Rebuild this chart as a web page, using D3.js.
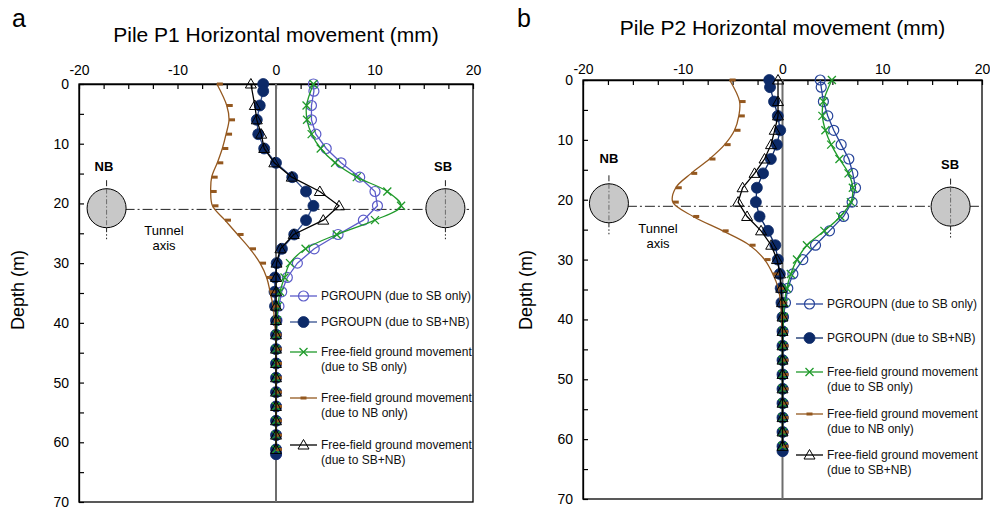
<!DOCTYPE html>
<html>
<head>
<meta charset="utf-8">
<script src="https://cdn.jsdelivr.net/npm/d3@7"></script>
<style>
  body { margin: 0; background: #fff; }
  svg { font-family: "Liberation Sans", Arial, sans-serif; }
</style>
</head>
<body>
<div id="chart"></div>
<script>
// depths (m) of the pile nodes and of the free-field points
var pileDepth = [0, 1.2, 3.6, 6, 8.4, 10.8, 13.2, 15.6, 18, 20.4, 22.8, 25.2, 27.6, 30, 32.4, 34.8, 37.2, 39.6, 42, 44.4, 46.8, 49.2, 51.6, 54, 56.4, 58.8, 61.2, 62];
var ffDepth = [0, 3.6, 6, 8.4, 10.8, 13.2, 15.6, 18, 20.4, 22.8, 25.2, 27.6, 30, 32.4, 34.8, 37.2, 39.6, 42, 44.4, 46.8, 49.2, 51.6, 54, 56.4, 58.8, 61.2];

var xTicks = [-20, -10, 0, 10, 20];
var yTicks = [0, 10, 20, 30, 40, 50, 60, 70];

var legendNames = [
  ["PGROUPN (due to SB only)"],
  ["PGROUPN (due to SB+NB)"],
  ["Free-field ground movement", "(due to SB only)"],
  ["Free-field ground movement", "(due to NB only)"],
  ["Free-field ground movement", "(due to SB+NB)"]
];

// pile P1 (mm)
var p1SbOnly = [3.8, 3.85, 3.6, 3.6, 4.05, 5.1, 6.6, 8.5, 10.05, 10.3, 8.87, 6.3, 3.88, 2.17, 1.15, 0.58, 0.3, 0.1, 0.05, 0.05, 0.05, 0.05, 0.05, 0.05, 0.05, 0.05, 0.05, 0.05];
var p1SbNb = [-1.3, -1.3, -1.65, -1.95, -1.8, -1.2, 0, 1.65, 3.05, 3.8, 3.05, 1.85, 0.6, 0.07, -0.1, -0.15, -0.1, 0, 0, 0, 0, 0, 0, 0, 0, 0, 0, 0];
var p1FfSb = [3.8, 3.1, 3.15, 3.62, 4.54, 6.0, 8.2, 11.3, 12.7, 10.05, 6.16, 3.0, 1.42, 0.86, 0.41, 0.2, 0.1, 0.05, 0, 0, 0, 0, 0, 0, 0, 0];
var p1FfNb = [-6.0, -5.0, -4.77, -5.07, -5.45, -5.96, -6.53, -6.63, -6.45, -5.18, -3.9, -2.64, -1.62, -0.95, -0.6, -0.3, -0.15, -0.05, 0, 0, 0, 0, 0, 0, 0, 0];
var p1FfSbNb = [-2.55, -2.15, -1.95, -1.5, -1.2, -0.17, 1.6, 4.45, 6.4, 4.8, 1.8, 0.45, 0.05, 0, 0, 0, 0, 0, 0, 0, 0, 0, 0, 0, 0, 0];

// pile P2 (mm)
var p2SbOnly = [3.78, 3.88, 4.1, 4.54, 5.14, 5.88, 6.65, 7.05, 7.32, 6.98, 6.12, 4.71, 3.31, 2.04, 1.04, 0.53, 0.3, 0.1, 0.05, 0.05, 0.05, 0.05, 0.05, 0.05, 0.05, 0.05, 0.05, 0.05];
var p2SbNb = [-1.33, -1.25, -0.85, -0.47, -0.23, -0.57, -1.17, -1.95, -2.57, -2.67, -2.3, -1.45, -0.72, -0.47, -0.27, -0.18, -0.1, 0, 0, 0, 0, 0, 0, 0, 0, 0, 0, 0];
var p2FfSb = [4.95, 4.1, 4.0, 4.3, 4.88, 5.71, 6.62, 7.05, 6.85, 5.8, 4.2, 2.45, 1.45, 0.83, 0.43, 0.2, 0.1, 0.05, 0, 0, 0, 0, 0, 0, 0, 0];
var p2FfNb = [-5.3, -4.3, -4.38, -4.81, -5.8, -7.32, -9.15, -10.7, -11.0, -8.95, -6.0, -3.3, -1.8, -0.97, -0.42, -0.2, -0.1, -0.05, 0, 0, 0, 0, 0, 0, 0, 0];
var p2FfSbNb = [-0.45, -0.45, -0.45, -0.78, -1.15, -1.8, -2.8, -4.0, -4.45, -3.55, -2.15, -1.13, -0.55, -0.25, -0.13, -0.05, 0, 0, 0, 0, 0, 0, 0, 0, 0, 0];

// tunnels: x position (mm axis units) and depth of centre
var tunnelX = [-17.2, 17.2];
var tunnelDepthA = [20.8, 20.8];
var tunnelXB = [-17.4, 16.85];
var tunnelDepthB = [20.6, 21.15];

var width = 990, height = 512;

var svg = d3.select("#chart").append("svg")
  .attr("width", width)
  .attr("height", height);

function makeSeries(sbOnly, sbNb, ffSb, ffNb, ffSbNb, openColor, dotLine) {
  return [
    { depth: pileDepth, values: sbOnly, marker: "open", color: openColor, lineColor: openColor, curve: d3.curveLinear },
    { depth: pileDepth, values: sbNb, marker: "dot", color: "#0c2a68", lineColor: dotLine, curve: d3.curveLinear },
    { depth: ffDepth, values: ffSb, marker: "cross", color: "#1f9a2a", lineColor: "#1f9a2a", curve: d3.curveCatmullRom },
    { depth: ffDepth, values: ffNb, marker: "dash", color: "#94581f", lineColor: "#94581f", curve: d3.curveCatmullRom },
    { depth: ffDepth, values: ffSbNb, marker: "tri", color: "#000", lineColor: "#000", curve: d3.curveLinear }
  ];
}

function drawMarker(g, type, color, px, py, inLegend) {
  if (type == "open") {
    g.append("circle").attr("cx", px).attr("cy", py).attr("r", 5)
      .attr("fill", "none").attr("stroke", color).attr("stroke-width", 1.2);
  } else if (type == "dot") {
    g.append("circle").attr("cx", px).attr("cy", py).attr("r", 5.5)
      .attr("fill", color).attr("stroke", color).attr("stroke-width", 0.8);
  } else if (type == "cross") {
    g.append("path")
      .attr("d", "M" + (px - 4) + "," + (py - 4) + "L" + (px + 4) + "," + (py + 4) +
                 "M" + (px - 4) + "," + (py + 4) + "L" + (px + 4) + "," + (py - 4))
      .attr("stroke", color).attr("stroke-width", 1.3).attr("fill", "none");
  } else if (type == "dash") {
    var off = inLegend ? -3 : 0;
    g.append("rect").attr("x", px + off).attr("y", py - 1.5).attr("width", 6).attr("height", 3)
      .attr("fill", color);
  } else if (type == "tri") {
    g.append("path")
      .attr("d", "M" + px + "," + (py - 5.5) + "L" + (px + 5.5) + "," + (py + 4) + "L" + (px - 5.5) + "," + (py + 4) + "Z")
      .attr("fill", "none").attr("stroke", color).attr("stroke-width", 1);
  }
}

function drawPanel(cfg) {
  var x = d3.scaleLinear().domain([-20, 20]).range([cfg.left, cfg.right]);
  var y = d3.scaleLinear().domain([0, 70]).range([cfg.top, cfg.bottom]);
  var g = svg.append("g");

  // panel letter and title
  g.append("text").attr("x", cfg.letterX).attr("y", 27)
    .attr("font-size", 25).text(cfg.letter);
  g.append("text").attr("x", (cfg.left + cfg.right) / 2).attr("y", cfg.titleY)
    .attr("text-anchor", "middle").attr("font-size", 21).text(cfg.title);

  // y axis label
  g.append("text")
    .attr("transform", "translate(" + cfg.yLabelX + "," + 290 + ") rotate(-90)")
    .attr("text-anchor", "middle").attr("font-size", 18).text("Depth (m)");

  // frame
  g.append("rect")
    .attr("x", cfg.left).attr("y", cfg.top)
    .attr("width", cfg.right - cfg.left).attr("height", cfg.bottom - cfg.top)
    .attr("fill", "none").attr("stroke", "#000").attr("stroke-width", 1.3);

  // top axis, ticks pointing inwards
  var xAxis = d3.axisTop(x)
    .tickValues(d3.range(-20, 20.01, 2.5))
    .tickSize(-5).tickSizeOuter(0).tickPadding(cfg.xPad)
    .tickFormat(function(d) { return xTicks.indexOf(d) >= 0 ? d : ""; });
  var gx = g.append("g").attr("transform", "translate(0," + cfg.top + ")").call(xAxis);

  // left axis
  var yAxis = d3.axisLeft(y)
    .tickValues(d3.range(0, 70.1, 5))
    .tickSize(-5).tickSizeOuter(0).tickPadding(10)
    .tickFormat(function(d) { return yTicks.indexOf(d) >= 0 ? d : ""; });
  var gy = g.append("g").attr("transform", "translate(" + cfg.left + ",0)").call(yAxis);

  [gx, gy].forEach(function(a) {
    a.selectAll("text").attr("font-size", 14).attr("fill", "#000")
      .attr("font-family", "Liberation Sans, Arial, sans-serif");
    a.selectAll("line").attr("stroke", "#000").attr("stroke-width", 1.2);
    a.select(".domain").attr("stroke", "#000").attr("stroke-width", 1.3);
  });

  // zero line
  g.append("line")
    .attr("x1", x(0)).attr("x2", x(0)).attr("y1", cfg.top).attr("y2", cfg.bottom)
    .attr("stroke", "#6e6e6e").attr("stroke-width", 2);

  // tunnel axis line
  g.append("line")
    .attr("x1", x(cfg.tunnelX[0])).attr("x2", x(cfg.axisLineEnd))
    .attr("y1", y(cfg.axisDepth)).attr("y2", y(cfg.axisDepth))
    .attr("stroke", "#222").attr("stroke-width", 1)
    .attr("stroke-dasharray", "10,3,2,3");

  // tunnels
  cfg.tunnelX.forEach(function(tx, i) {
    var cx = x(tx), cy = y(cfg.tunnelDepth[i]);
    g.append("line").attr("x1", cx).attr("x2", cx).attr("y1", cy - 28).attr("y2", cy + 31)
      .attr("stroke", "#222").attr("stroke-width", 1).attr("stroke-dasharray", "6,2,1.5,2");
    g.append("circle").attr("cx", cx).attr("cy", cy).attr("r", 19.5)
      .attr("fill", "#c8c8c8").attr("stroke", "#000").attr("stroke-width", 1);
    g.append("line").attr("x1", cx).attr("x2", cx).attr("y1", cy - 19.5).attr("y2", cy + 19.5)
      .attr("stroke", "#555").attr("stroke-width", 0.8).attr("stroke-dasharray", "5,2,1.5,2");
  });
  g.append("text").attr("x", cfg.nbLabel[0]).attr("y", cfg.nbLabel[1])
    .attr("text-anchor", "middle").attr("font-size", 13).attr("font-weight", "bold").text("NB");
  g.append("text").attr("x", cfg.sbLabel[0]).attr("y", cfg.sbLabel[1])
    .attr("text-anchor", "middle").attr("font-size", 13).attr("font-weight", "bold").text("SB");
  g.append("text").attr("x", cfg.tunnelText[0]).attr("y", cfg.tunnelText[1])
    .attr("text-anchor", "middle").attr("font-size", 13).text("Tunnel");
  g.append("text").attr("x", cfg.tunnelText[0]).attr("y", cfg.tunnelText[1] + 15)
    .attr("text-anchor", "middle").attr("font-size", 13).text("axis");

  // series lines and markers
  cfg.series.forEach(function(s) {
    var pts = s.depth.map(function(d, i) { return [s.values[i], d]; });
    var line = d3.line()
      .x(function(d) { return x(d[0]); })
      .y(function(d) { return y(d[1]); })
      .curve(s.curve);
    g.append("path").datum(pts).attr("d", line)
      .attr("fill", "none").attr("stroke", s.lineColor).attr("stroke-width", 1.3);
    var mg = g.append("g");
    pts.forEach(function(p) {
      drawMarker(mg, s.marker, s.color, x(p[0]), y(p[1]), false);
    });
  });

  // legend
  cfg.series.forEach(function(s, i) {
    var ly = cfg.legendY[i];
    g.append("line").attr("x1", cfg.legendX).attr("x2", cfg.legendX + 27)
      .attr("y1", ly).attr("y2", ly)
      .attr("stroke", s.lineColor).attr("stroke-width", 1.3);
    drawMarker(g, s.marker, s.color, cfg.legendX + 13.5, ly, true);
    legendNames[i].forEach(function(t, j) {
      g.append("text").attr("x", cfg.legendX + 31).attr("y", ly + 4 + j * 15)
        .attr("font-size", 12).attr("fill", "#111").text(t);
    });
  });
}

drawPanel({
  letter: "a", letterX: 12, title: "Pile P1 Horizontal movement (mm)", titleY: 42,
  left: 79, right: 473, top: 84, bottom: 502, xPad: 9, yLabelX: 24,
  tunnelX: tunnelX, tunnelDepth: tunnelDepthA, axisDepth: 21, axisLineEnd: 19.6,
  nbLabel: [104, 171], sbLabel: [443, 171], tunnelText: [164, 235],
  legendX: 290, legendY: [296, 322, 352, 398, 445],
  series: makeSeries(p1SbOnly, p1SbNb, p1FfSb, p1FfNb, p1FfSbNb, "#5b5bc9", "#34508f")
});

drawPanel({
  letter: "b", letterX: 517, title: "Pile P2 Horizontal movement (mm)", titleY: 35,
  left: 583, right: 982, top: 80, bottom: 499, xPad: 6, yLabelX: 532,
  tunnelX: tunnelXB, tunnelDepth: tunnelDepthB, axisDepth: 21.1, axisLineEnd: 20,
  nbLabel: [609, 163], sbLabel: [950, 169], tunnelText: [658, 233],
  legendX: 796, legendY: [304, 338, 372, 414, 455],
  series: makeSeries(p2SbOnly, p2SbNb, p2FfSb, p2FfNb, p2FfSbNb, "#27449a", "#0c2a68")
});
</script>
</body>
</html>
